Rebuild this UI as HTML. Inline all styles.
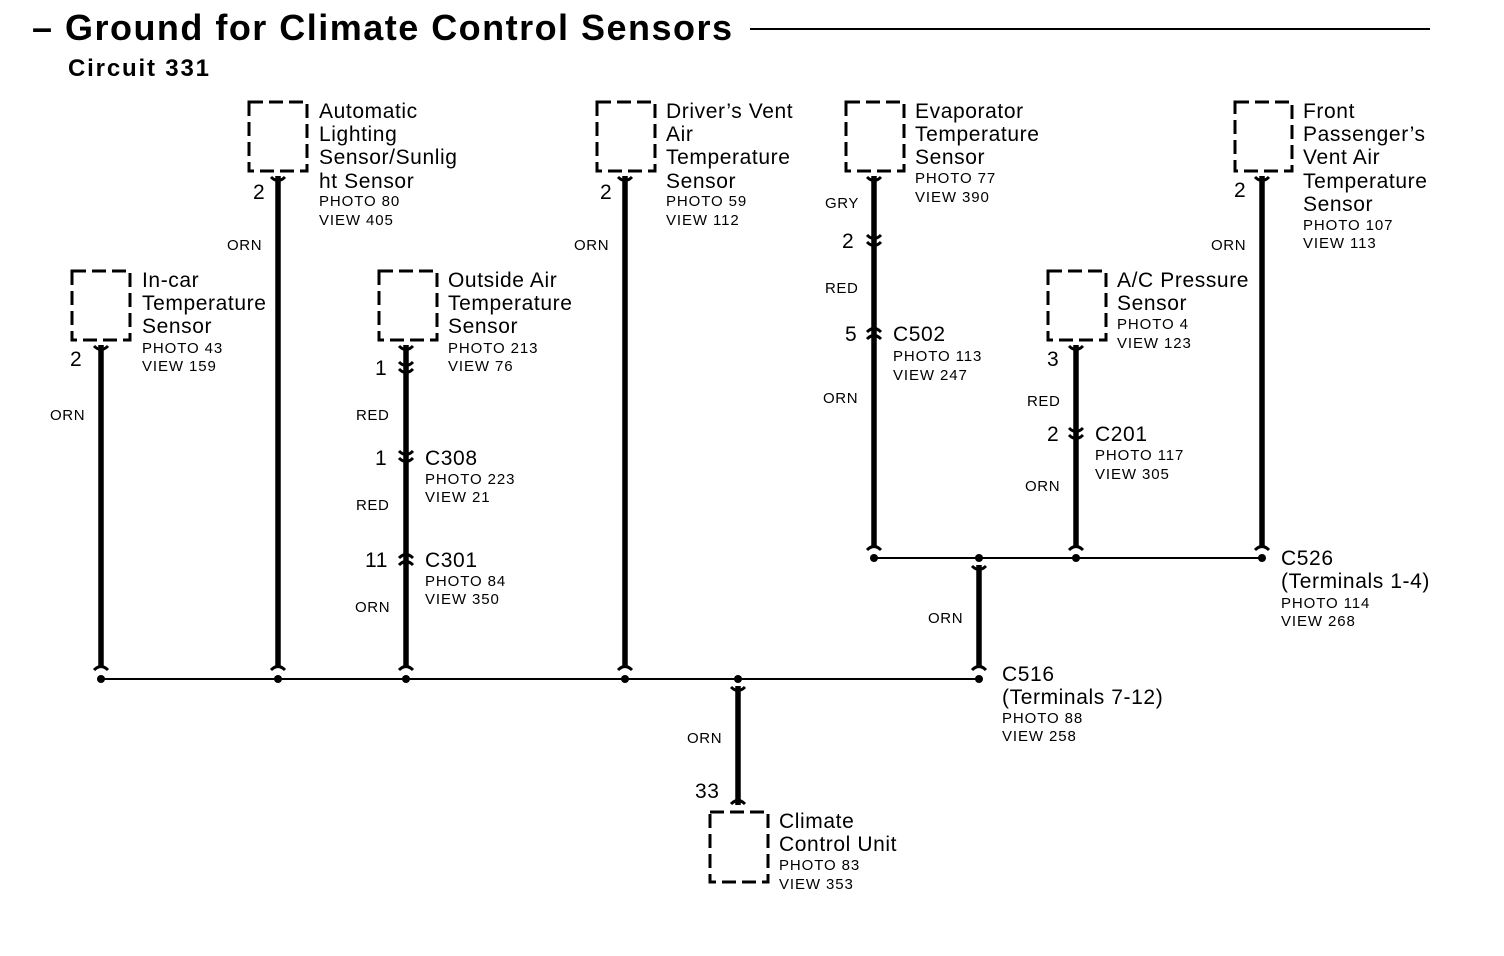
<!DOCTYPE html>
<html><head><meta charset="utf-8"><style>
body{margin:0;background:#fff}
svg{display:block;font-family:"Liberation Sans",sans-serif}
.b{font-size:21px;letter-spacing:0.6px}
.s{font-size:15px;letter-spacing:0.9px}
.w{font-size:15px;letter-spacing:0.6px}
</style></head><body>
<svg width="1504" height="956" viewBox="0 0 1504 956">
<text x="32" y="40" font-size="36" font-weight="bold" textLength="700" lengthAdjust="spacing">– Ground for Climate Control Sensors</text>
<line x1="750" y1="29" x2="1430" y2="29" stroke="#000" stroke-width="2"/>
<text x="68" y="76" font-size="24" font-weight="bold" textLength="141" lengthAdjust="spacing">Circuit 331</text>

<g fill="none" stroke="#000" stroke-width="3" stroke-dasharray="14,6">
<rect x="249" y="102" width="58" height="69"/>
<rect x="597" y="102" width="58" height="69"/>
<rect x="846" y="102" width="58" height="69"/>
<rect x="1235" y="102" width="57" height="69"/>
<rect x="72" y="271" width="58" height="69"/>
<rect x="379" y="271" width="58" height="69"/>
<rect x="1048" y="271" width="58" height="69"/>
<rect x="710" y="812" width="58" height="70"/>
</g>

<g stroke="#000" stroke-width="5.5">
<line x1="101" y1="345" x2="101" y2="668"/>
<line x1="278" y1="176" x2="278" y2="668"/>
<line x1="406" y1="345" x2="406" y2="668"/>
<line x1="625" y1="176" x2="625" y2="668"/>
<line x1="874" y1="176" x2="874" y2="548"/>
<line x1="1076" y1="345" x2="1076" y2="548"/>
<line x1="1262" y1="176" x2="1262" y2="548"/>
<line x1="979" y1="565" x2="979" y2="668"/>
<line x1="738" y1="686" x2="738" y2="805"/>
</g>
<g stroke="#000" stroke-width="2">
<line x1="101" y1="679" x2="979" y2="679"/>
<line x1="874" y1="558" x2="1262" y2="558"/>
</g>
<g fill="#000">
<circle cx="101" cy="679" r="4"/><circle cx="278" cy="679" r="4"/><circle cx="406" cy="679" r="4"/>
<circle cx="625" cy="679" r="4"/><circle cx="738" cy="679" r="4"/><circle cx="979" cy="679" r="4"/>
<circle cx="874" cy="558" r="4"/><circle cx="979" cy="558" r="4"/><circle cx="1076" cy="558" r="4"/><circle cx="1262" cy="558" r="4"/>
</g>
<g fill="none" stroke="#000" stroke-width="3">
<path d="M94 346 Q101 353 108 346"/>
<path d="M271 177 Q278 184 285 177"/>
<path d="M618 177 Q625 184 632 177"/>
<path d="M867 177 Q874 184 881 177"/>
<path d="M1255 177 Q1262 184 1269 177"/>
<path d="M1069 346 Q1076 353 1083 346"/>
<path d="M399 346 Q406 353 413 346"/>
<path d="M972 566 Q979 573 986 566"/>
<path d="M731 687 Q738 694 745 687"/>
<path d="M94 670 Q101 663 108 670"/>
<path d="M271 670 Q278 663 285 670"/>
<path d="M399 670 Q406 663 413 670"/>
<path d="M618 670 Q625 663 632 670"/>
<path d="M972 670 Q979 663 986 670"/>
<path d="M867 550 Q874 543 881 550"/>
<path d="M1069 550 Q1076 543 1083 550"/>
<path d="M1255 550 Q1262 543 1269 550"/>
<path d="M731 804 Q738 797 745 804"/>
<path d="M399 362 Q406 369 413 362"/><path d="M399 369 Q406 376 413 369"/>
<path d="M399 451 Q406 458 413 451"/><path d="M399 458 Q406 465 413 458"/>
<path d="M867 235 Q874 242 881 235"/><path d="M867 242 Q874 249 881 242"/>
<path d="M1069 428 Q1076 435 1083 428"/><path d="M1069 435 Q1076 442 1083 435"/>
<path d="M399 558 Q406 551 413 558"/><path d="M399 565 Q406 558 413 565"/>
<path d="M867 332 Q874 325 881 332"/><path d="M867 339 Q874 332 881 339"/>
</g>

<g class="b">
<text x="319" y="118">Automatic</text><text x="319" y="141">Lighting</text><text x="319" y="164">Sensor/Sunlig</text><text x="319" y="188">ht Sensor</text>
<text x="666" y="118">Driver’s Vent</text><text x="666" y="141">Air</text><text x="666" y="164">Temperature</text><text x="666" y="188">Sensor</text>
<text x="915" y="118">Evaporator</text><text x="915" y="141">Temperature</text><text x="915" y="164">Sensor</text>
<text x="1303" y="118">Front</text><text x="1303" y="141">Passenger’s</text><text x="1303" y="164">Vent Air</text><text x="1303" y="188">Temperature</text><text x="1303" y="211">Sensor</text>
<text x="142" y="287">In-car</text><text x="142" y="310">Temperature</text><text x="142" y="333">Sensor</text>
<text x="448" y="287">Outside Air</text><text x="448" y="310">Temperature</text><text x="448" y="333">Sensor</text>
<text x="1117" y="287">A/C Pressure</text><text x="1117" y="310">Sensor</text>
<text x="425" y="465">C308</text><text x="425" y="567">C301</text>
<text x="893" y="341">C502</text><text x="1095" y="441">C201</text>
<text x="1281" y="565">C526</text><text x="1281" y="588">(Terminals 1-4)</text>
<text x="1002" y="681">C516</text><text x="1002" y="704">(Terminals 7-12)</text>
<text x="779" y="828">Climate</text><text x="779" y="851">Control Unit</text>
<text x="253" y="199">2</text><text x="600" y="199">2</text><text x="1234" y="197">2</text><text x="70" y="366">2</text>
<text x="375" y="375">1</text><text x="375" y="465">1</text><text x="365" y="567">11</text>
<text x="842" y="248">2</text><text x="845" y="341">5</text><text x="1047" y="366">3</text><text x="1047" y="441">2</text>
<text x="695" y="798">33</text>
</g>
<g class="s">
<text x="319" y="206">PHOTO 80</text><text x="319" y="225">VIEW 405</text>
<text x="666" y="206">PHOTO 59</text><text x="666" y="225">VIEW 112</text>
<text x="915" y="183">PHOTO 77</text><text x="915" y="202">VIEW 390</text>
<text x="1303" y="230">PHOTO 107</text><text x="1303" y="248">VIEW 113</text>
<text x="142" y="353">PHOTO 43</text><text x="142" y="371">VIEW 159</text>
<text x="448" y="353">PHOTO 213</text><text x="448" y="371">VIEW 76</text>
<text x="1117" y="329">PHOTO 4</text><text x="1117" y="348">VIEW 123</text>
<text x="425" y="484">PHOTO 223</text><text x="425" y="502">VIEW 21</text>
<text x="425" y="586">PHOTO 84</text><text x="425" y="604">VIEW 350</text>
<text x="893" y="361">PHOTO 113</text><text x="893" y="380">VIEW 247</text>
<text x="1095" y="460">PHOTO 117</text><text x="1095" y="479">VIEW 305</text>
<text x="1281" y="608">PHOTO 114</text><text x="1281" y="626">VIEW 268</text>
<text x="1002" y="723">PHOTO 88</text><text x="1002" y="741">VIEW 258</text>
<text x="779" y="870">PHOTO 83</text><text x="779" y="889">VIEW 353</text>
</g>
<g class="w">
<text x="227" y="250">ORN</text><text x="574" y="250">ORN</text><text x="1211" y="250">ORN</text>
<text x="50" y="420">ORN</text><text x="356" y="420">RED</text><text x="356" y="510">RED</text><text x="355" y="612">ORN</text>
<text x="825" y="208">GRY</text><text x="825" y="293">RED</text><text x="823" y="403">ORN</text>
<text x="1027" y="406">RED</text><text x="1025" y="491">ORN</text>
<text x="928" y="623">ORN</text><text x="687" y="743">ORN</text>
</g>
</svg>
</body></html>
